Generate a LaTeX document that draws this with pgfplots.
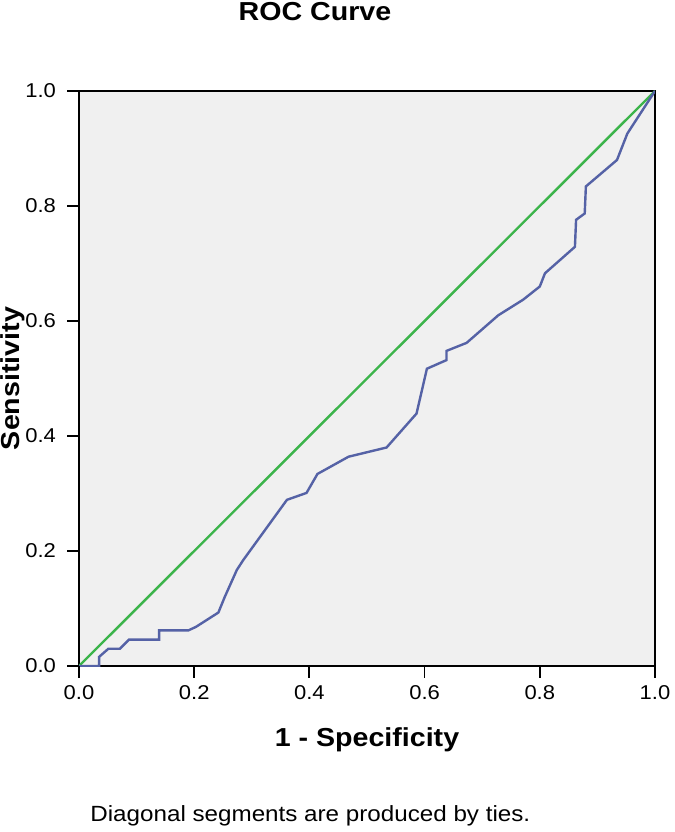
\documentclass[border=0pt]{standalone}
\usepackage{fontspec}
\setmainfont{Liberation Sans}[FakeStretch=1.1]
\usepackage{pgfplots}
\pgfplotsset{compat=1.18}
\definecolor{bgc}{HTML}{F0F0F0}
\definecolor{roc}{HTML}{5562A6}
\definecolor{refc}{HTML}{3CB44B}
\begin{document}
\begin{tikzpicture}
\useasboundingbox (-39.5pt,-83pt) rectangle (298pt,333pt);
\begin{axis}[
  at={(0,0)}, anchor=south west,
  scale only axis, width=288pt, height=287.5pt,
  xmin=0, xmax=1, ymin=0, ymax=1,
  xtick={0,0.2,0.4,0.6,0.8,1}, ytick={0,0.2,0.4,0.6,0.8,1},
  /pgf/number format/assume math mode=true,
  xticklabel={\pgfmathprintnumber[fixed,fixed zerofill,precision=1]{\tick}},
  yticklabel={\pgfmathprintnumber[fixed,fixed zerofill,precision=1]{\tick}},
  tick label style={font=\fontsize{10}{11}\selectfont, black},
  tick pos=left,
  major tick length=0pt,
  axis line style={line width=0.8pt},
  axis background/.style={fill=bgc},
  yticklabel style={xshift=-8pt},
  xticklabel style={yshift=-6pt},
]
\addplot[refc, line width=1.2pt] coordinates {(0,0) (1,1)};
\addplot[roc, line width=1.2pt] coordinates {
(0,0) (0.035,0) (0.035,0.016) (0.051,0.030) (0.071,0.030) (0.087,0.046)
(0.139,0.046) (0.139,0.062) (0.190,0.062) (0.203,0.068) (0.242,0.093)
(0.253,0.120) (0.274,0.167) (0.285,0.184) (0.361,0.289) (0.395,0.301)
(0.414,0.334) (0.468,0.364) (0.534,0.380) (0.586,0.439) (0.604,0.517)
(0.638,0.532) (0.638,0.548) (0.673,0.562) (0.728,0.610) (0.771,0.637)
(0.800,0.660) (0.809,0.683) (0.861,0.729) (0.863,0.776) (0.878,0.787)
(0.880,0.834) (0.934,0.880) (0.952,0.926) (1,1)};
\end{axis}
\foreach \i in {0,1,2,3,4,5} {
  \draw[black, line width=0.9pt] (\i*57.6pt,0pt) -- ++(0pt,-6pt);
  \draw[black, line width=0.9pt] (0pt,\i*57.5pt) -- ++(-6pt,0pt);
}
\node[anchor=base, font=\bfseries\fontsize{13}{15}\selectfont] at (118pt,323pt) {ROC Curve};
\node[anchor=base, font=\bfseries\fontsize{13}{15}\selectfont] at (144pt,-40pt) {1 - Specificity};
\node[rotate=90, anchor=base, font=\bfseries\fontsize{13}{15}\selectfont] at (-29.5pt,143.75pt) {Sensitivity};
\node[anchor=base west, inner sep=0pt, font=\fontsize{11}{13}\selectfont] at (5.5pt,-77.5pt) {Diagonal segments are produced by ties.};
\end{tikzpicture}
\end{document}
